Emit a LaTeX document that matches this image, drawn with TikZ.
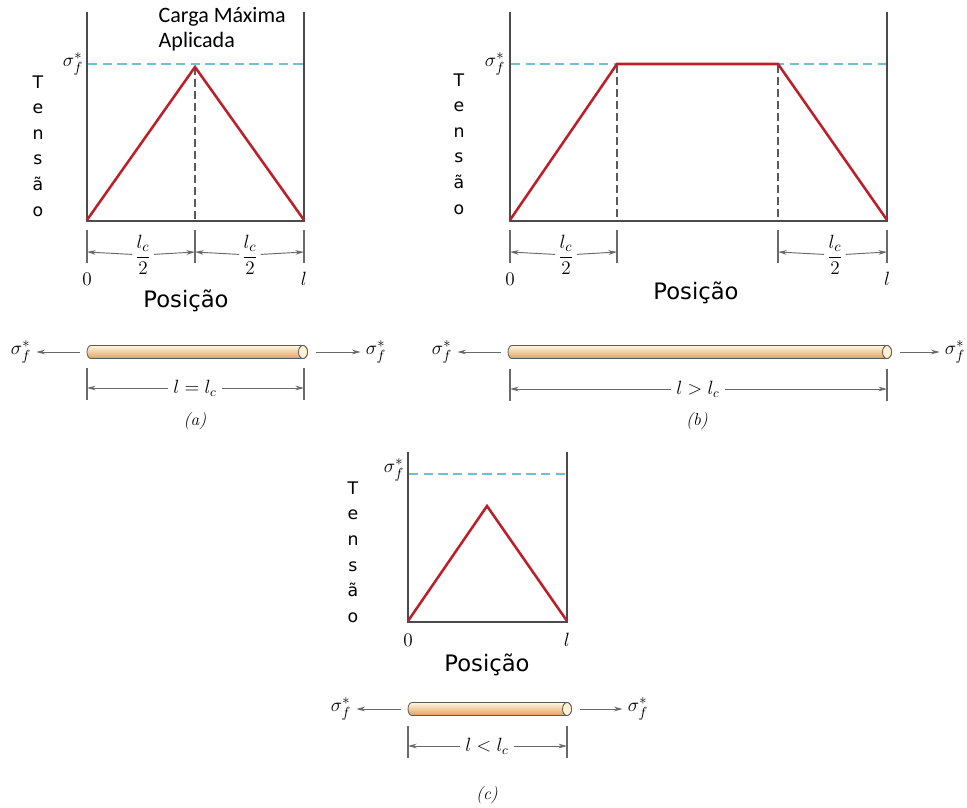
\documentclass[tikz,border=0pt]{standalone}
\usepackage{fontspec}
\usetikzlibrary{arrows.meta}
\newfontfamily\calfont{Carlito}
\newfontfamily\vfont{DejaVu Sans}
\definecolor{Sred}{RGB}{190,30,40}
\definecolor{Scyan}{RGB}{115,190,215}
\definecolor{Saxis}{RGB}{75,75,75}
\definecolor{Sdim}{RGB}{105,105,105}
\definecolor{Rtop}{RGB}{255,247,226}
\definecolor{Rbot}{RGB}{225,160,92}
\definecolor{Rend}{RGB}{255,242,212}

\begin{document}
\begin{tikzpicture}[x=0.75pt,y=-0.75pt,
  axis/.style={draw=Saxis,line width=1.1pt},
  curve/.style={draw=Sred,line width=1.9pt},
  limit/.style={draw=Scyan,line width=1.1pt,dash pattern=on 7pt off 4pt},
  guide/.style={draw=black!65,line width=0.9pt,dash pattern=on 6pt off 3pt},
  tick/.style={draw=Sdim,line width=0.9pt},
  dimarrow/.style={draw=Sdim,line width=0.7pt,-{Stealth[length=6.5pt,width=3.5pt]}},
  force/.style={draw=Sdim,line width=0.7pt,-{Stealth[length=6.5pt,width=3.5pt]}},
  rodbody/.style={draw=gray!70!black,line width=0.6pt,top color=Rtop,bottom color=Rbot},
  rodend/.style={draw=gray!70!black,line width=0.6pt,fill=Rend},
  vtext/.style={font=\vfont\fontsize{13}{19.2}\selectfont,align=center},
  postext/.style={font=\vfont\fontsize{17}{20}\selectfont},
  notetext/.style={font=\calfont\fontsize{16.5}{18.75}\selectfont,align=left},
  sig/.style={font=\fontsize{15}{17}\selectfont,inner sep=1pt},
  rodsig/.style={sig,outer sep=3pt},
  axlab/.style={font=\fontsize{15}{17}\selectfont},
  halflab/.style={font=\fontsize{15}{17}\selectfont,inner sep=2pt},
  lenlab/.style={font=\fontsize{14}{16}\selectfont,inner sep=4pt},
  figcap/.style={font=\itshape\fontsize{13}{15}\selectfont}]
\path[use as bounding box] (0,0) rectangle (967,807);

% ---- (a) l = lc
\draw[limit] (88,64) -- (304,64);
\draw[guide] (195,67) -- (195,220);
\draw[axis] (87,12) -- (87,221) -- (304,221) -- (304,12);
\draw[curve] (87,220) -- (195,67) -- (304,220);
\node[sig] (sfa) at (73,64) {$\sigma_f^*$};
\node[vtext] (tena) at (38,146) {T\\e\\n\\s\\ã\\o};
\node[notetext,anchor=north west] (carga) at (154,3) {Carga Máxima\\Aplicada};
\foreach \x in {87,195,304} {
  \draw[tick] (\x,230) -- (\x,263);
  \coordinate (ta\x) at (\x,252);
}
\node[halflab] (ha1) at (143,255) {$\displaystyle\frac{l_c}{2}$};
\node[halflab] (ha2) at (250,255) {$\displaystyle\frac{l_c}{2}$};
\draw[dimarrow] (ha1) -- (ta87);
\draw[dimarrow] (ha1) -- (ta195);
\draw[dimarrow] (ha2) -- (ta195);
\draw[dimarrow] (ha2) -- (ta304);
\node[axlab] (za) at (87,279) {$0$};
\node[axlab] (la) at (304,279) {$l$};
\node[postext] (posa) at (186,301) {Posição};

% ---- (b) l > lc
\draw[limit] (511,64) -- (887,64);
\draw[guide] (617,65) -- (617,220);
\draw[guide] (778,65) -- (778,220);
\draw[axis] (510,12) -- (510,221) -- (887,221) -- (887,12);
\draw[curve] (510,220) -- (617,64) -- (778,64) -- (887,220);
\node[sig] (sfb) at (495,64) {$\sigma_f^*$};
\node[vtext] (tenb) at (459,144) {T\\e\\n\\s\\ã\\o};
\foreach \x in {510,617,778,887} {
  \draw[tick] (\x,230) -- (\x,263);
  \coordinate (tb\x) at (\x,252);
}
\node[halflab] (hb1) at (566,255) {$\displaystyle\frac{l_c}{2}$};
\node[halflab] (hb2) at (835,255) {$\displaystyle\frac{l_c}{2}$};
\draw[dimarrow] (hb1) -- (tb510);
\draw[dimarrow] (hb1) -- (tb617);
\draw[dimarrow] (hb2) -- (tb778);
\draw[dimarrow] (hb2) -- (tb887);
\node[axlab] (zb) at (510,279) {$0$};
\node[axlab] (lb) at (887,279) {$l$};
\node[postext] (posb) at (696,293) {Posição};

% ---- (c) l < lc
\draw[limit] (409,474) -- (567,474);
\draw[axis] (408,452) -- (408,622) -- (567,622) -- (567,452);
\draw[curve] (408,621) -- (487,506) -- (567,621);
\node[sig] (sfc) at (394,470) {$\sigma_f^*$};
\node[vtext] (tenc) at (353,552) {T\\e\\n\\s\\ã\\o};
\node[axlab] (zc) at (408,640) {$0$};
\node[axlab] (lc) at (567,640) {$l$};
\node[postext] (posc) at (487,665) {Posição};

% ---- fibres under load
\foreach \xa/\xb/\yy/\nm in {87/303/352/a,508/887/352/b,408/567/709/c} {
  \path[rodbody] (\xa+4,\yy-6.5) -- (\xb,\yy-6.5)
    arc[start angle=-90,end angle=90,x radius=4.5,y radius=6.5]
    -- (\xa+4,\yy+6.5)
    arc[start angle=90,end angle=270,x radius=4,y radius=6.5] -- cycle;
  \path[rodend] (\xb,\yy) ellipse[x radius=4.5,y radius=6.5];
  \coordinate (r\nm l) at (\xa-7,\yy);
  \coordinate (r\nm r) at (\xb+13,\yy);
}
\node[rodsig] (fal) at (21,352) {$\sigma_f^*$};
\node[rodsig] (far) at (376,352) {$\sigma_f^*$};
\node[rodsig] (fbl) at (442,352) {$\sigma_f^*$};
\node[rodsig] (fbr) at (955,352) {$\sigma_f^*$};
\node[rodsig] (fcl) at (341,709) {$\sigma_f^*$};
\node[rodsig] (fcr) at (638,709) {$\sigma_f^*$};
\draw[force] (ral) -- (fal);
\draw[force] (rar) -- (far);
\draw[force] (rbl) -- (fbl);
\draw[force] (rbr) -- (fbr);
\draw[force] (rcl) -- (fcl);
\draw[force] (rcr) -- (fcr);

% ---- length dimensions
\foreach \xl/\xr/\yy/\nm in {87/304/384/a,510/887/385/b,408/567/742/c} {
  \draw[tick] (\xl,\yy-16) -- (\xl,\yy+16);
  \draw[tick] (\xr,\yy-16) -- (\xr,\yy+16);
  \coordinate (d\nm l) at (\xl,\yy+4);
  \coordinate (d\nm r) at (\xr,\yy+4);
}
\node[lenlab] (lena) at (195,388) {$l = l_c$};
\node[lenlab] (lenb) at (698,389) {$l > l_c$};
\node[lenlab] (lenc) at (487,746) {$l < l_c$};
\draw[dimarrow] (lena) -- (dal);
\draw[dimarrow] (lena) -- (dar);
\draw[dimarrow] (lenb) -- (dbl);
\draw[dimarrow] (lenb) -- (dbr);
\draw[dimarrow] (lenc) -- (dcl);
\draw[dimarrow] (lenc) -- (dcr);

\node[figcap] (capa) at (195,421) {(a)};
\node[figcap] (capb) at (697,421) {(b)};
\node[figcap] (capc) at (487,795) {(c)};
\end{tikzpicture}
\end{document}
